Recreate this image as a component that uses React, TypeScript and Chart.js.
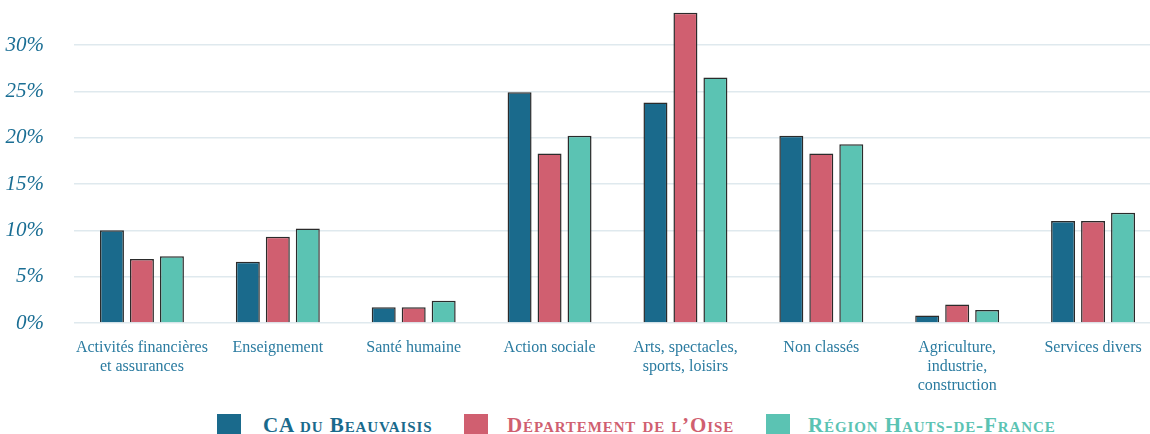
import React, { useEffect, useRef } from "react";
import { Chart, registerables } from "chart.js";

Chart.register(...registerables);

const categories: string[][] = [
  ["Activités financières", "et assurances"],
  ["Enseignement"],
  ["Santé humaine"],
  ["Action sociale"],
  ["Arts, spectacles,", "sports, loisirs"],
  ["Non classés"],
  ["Agriculture,", "industrie,", "construction"],
  ["Services divers"],
];

const caBeauvaisis = [10.0, 6.6, 1.7, 24.9, 23.8, 20.2, 0.8, 11.0];
const departementOise = [6.9, 9.3, 1.7, 18.3, 33.5, 18.3, 2.0, 11.0];
const regionHdf = [7.2, 10.2, 2.4, 20.2, 26.5, 19.3, 1.4, 11.9];

const seriesNames = ["CA du Beauvaisis", "Département de l’Oise", "Région Hauts-de-France"];
const seriesColors = ["#1a6a8c", "#d05f70", "#5bc3b3"];

export default function App() {
  const ref = useRef<HTMLCanvasElement | null>(null);

  useEffect(() => {
    if (!ref.current) return;
    const values = [caBeauvaisis, departementOise, regionHdf];
    const chart = new Chart(ref.current, {
      type: "bar",
      data: {
        labels: categories,
        datasets: values.map((v, i) => ({
          label: seriesNames[i],
          data: v,
          backgroundColor: seriesColors[i],
          borderColor: "#2b2b2b",
          borderWidth: 1.5,
          categoryPercentage: 0.662,
          barPercentage: 0.8,
        })),
      },
      options: {
        animation: false,
        responsive: false,
        maintainAspectRatio: false,
        layout: { padding: { top: 8, right: 0, left: 0, bottom: 0 } },
        plugins: {
          legend: { display: false },
          tooltip: { enabled: false },
        },
        scales: {
          x: {
            grid: { display: false },
            border: { display: false },
            ticks: {
              color: "#2a7ba0",
              font: { family: "'Liberation Serif', serif", size: 16, lineHeight: 1.2 },
              padding: 7,
              maxRotation: 0,
              autoSkip: false,
            },
            afterFit: (s: any) => {
              s.height = 82;
              s.paddingLeft = 0;
              s.paddingRight = 0;
            },
          },
          y: {
            min: 0,
            max: 34,
            afterBuildTicks: (s: any) => {
              s.ticks = s.ticks.filter((t: any) => t.value % 5 === 0);
            },
            ticks: {
              stepSize: 5,
              color: "#1a6e94",
              padding: 30,
              font: { family: "'Liberation Serif', serif", size: 21, style: "italic" },
              callback: (v: any) => v + "%",
            },
            grid: { color: "#dfe9ee", lineWidth: 1.5, drawTicks: false },
            border: { display: false },
            afterFit: (s: any) => {
              s.width = 74;
              s.paddingTop = 0;
              s.paddingBottom = 0;
            },
          },
        },
      },
    });
    return () => chart.destroy();
  }, []);

  const boxPos = [217, 464, 766];
  const textPos = [263, 507, 808];

  return (
    <div style={{ position: "fixed", left: 0, top: 0, width: 1150, height: 434, background: "#fff", overflow: "hidden" }}>
      <canvas ref={ref} width={1161} height={405} style={{ display: "block" }} />
      {seriesNames.map((n, i) => (
        <React.Fragment key={n}>
          <span
            style={{
              position: "absolute",
              left: boxPos[i],
              top: 414,
              width: 24,
              height: 22,
              background: seriesColors[i],
            }}
          />
          <span
            style={{
              position: "absolute",
              left: textPos[i],
              top: 415,
              whiteSpace: "nowrap",
              color: seriesColors[i],
              fontFamily: "'Liberation Serif', serif",
              fontVariant: "small-caps",
              fontWeight: 700,
              fontSize: 21,
              letterSpacing: "0.9px",
              lineHeight: "21px",
            }}
          >
            {n}
          </span>
        </React.Fragment>
      ))}
    </div>
  );
}
